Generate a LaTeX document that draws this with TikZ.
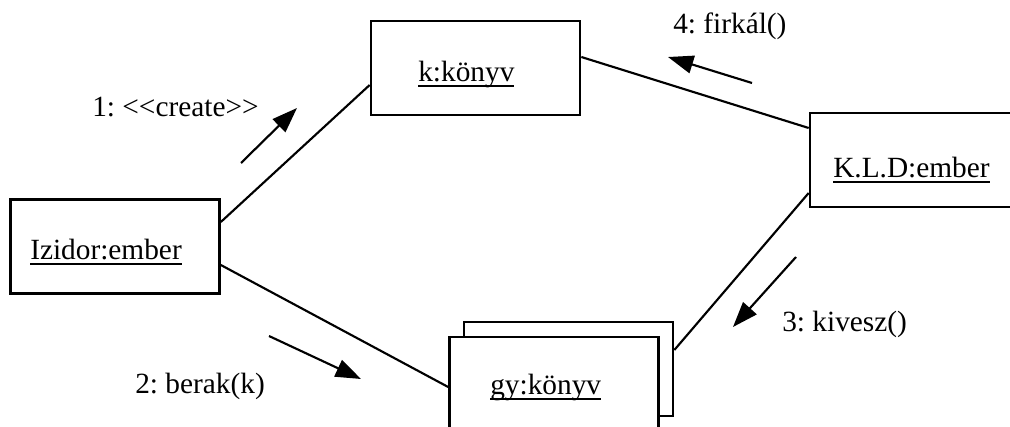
\documentclass[tikz,border=0pt]{standalone}
\usepackage{fontspec}
\setmainfont{Liberation Serif}
\usetikzlibrary{arrows.meta}
\frenchspacing
\newcommand\ulx[1]{\sbox0{#1}\rlap{\rule[-3.6pt]{\wd0}{1.4pt}}\box0}
\begin{document}
\begin{tikzpicture}[x=0.75pt,y=-0.75pt,
  obj/.style={draw, line width=2pt, fill=white, minimum width=156.75pt, minimum height=70.5pt, inner sep=0pt},
  txt/.style={inner sep=0pt, anchor=base west, font=\fontsize{22pt}{26pt}\selectfont},
  conn/.style={line width=1.6pt},
  msg/.style={line width=1.6pt, -{Triangle[length=19pt,width=13.5pt]}}]
\useasboundingbox (0,0) rectangle (1010,427);
\clip (0,0) rectangle (1010,427);
\fill[white] (0,0) rectangle (1010,427);
% objects
\node[obj] (izidor) at (115,246.5) {};
\node[obj] (kk) at (475.5,68) {};
\node[obj] (kld) at (914.5,160) {};
\node[obj] (gyback) at (568.5,369) {};
\node[obj] (gy) at (554,384) {};
% object names
\node[txt] (izidorT) at (30,260) {\ulx{Izidor:ember}};
\node[txt] (kkT) at (418,82) {\ulx{k:könyv}};
\node[txt] (kldT) at (833,178) {\ulx{K.L.D:ember}};
\node[txt] (gyT) at (490,395) {\ulx{gy:könyv}};
% links
\draw[conn] (izidor.east |- 0,222) -- (kk.west |- 0,85);
\draw[conn] (izidor.east |- 0,265) -- (gy.west |- 0,387);
\draw[conn] (kk.east |- 0,57) -- (kld.west |- 0,128);
\draw[conn] (kld.west |- 0,193) -- (gyback.east |- 0,350);
% messages
\coordinate (m1s) at (241,163); \coordinate (m1e) at (297,108);
\coordinate (m2s) at (269,336); \coordinate (m2e) at (361,379);
\coordinate (m3s) at (796,257); \coordinate (m3e) at (733,327);
\coordinate (m4s) at (752,83);  \coordinate (m4e) at (668,57);
\draw[msg] (m1s) -- (m1e);
\draw[msg] (m2s) -- (m2e);
\draw[msg] (m3s) -- (m3e);
\draw[msg] (m4s) -- (m4e);
\node[txt] (l1) at (92,117) {1: <\kern0pt<create>\kern0pt>};
\node[txt] (l2) at (135,394) {2: berak(k)};
\node[txt] (l3) at (782,332) {3: kivesz()};
\node[txt] (l4) at (673,34) {4: firkál()};
\end{tikzpicture}
\end{document}
